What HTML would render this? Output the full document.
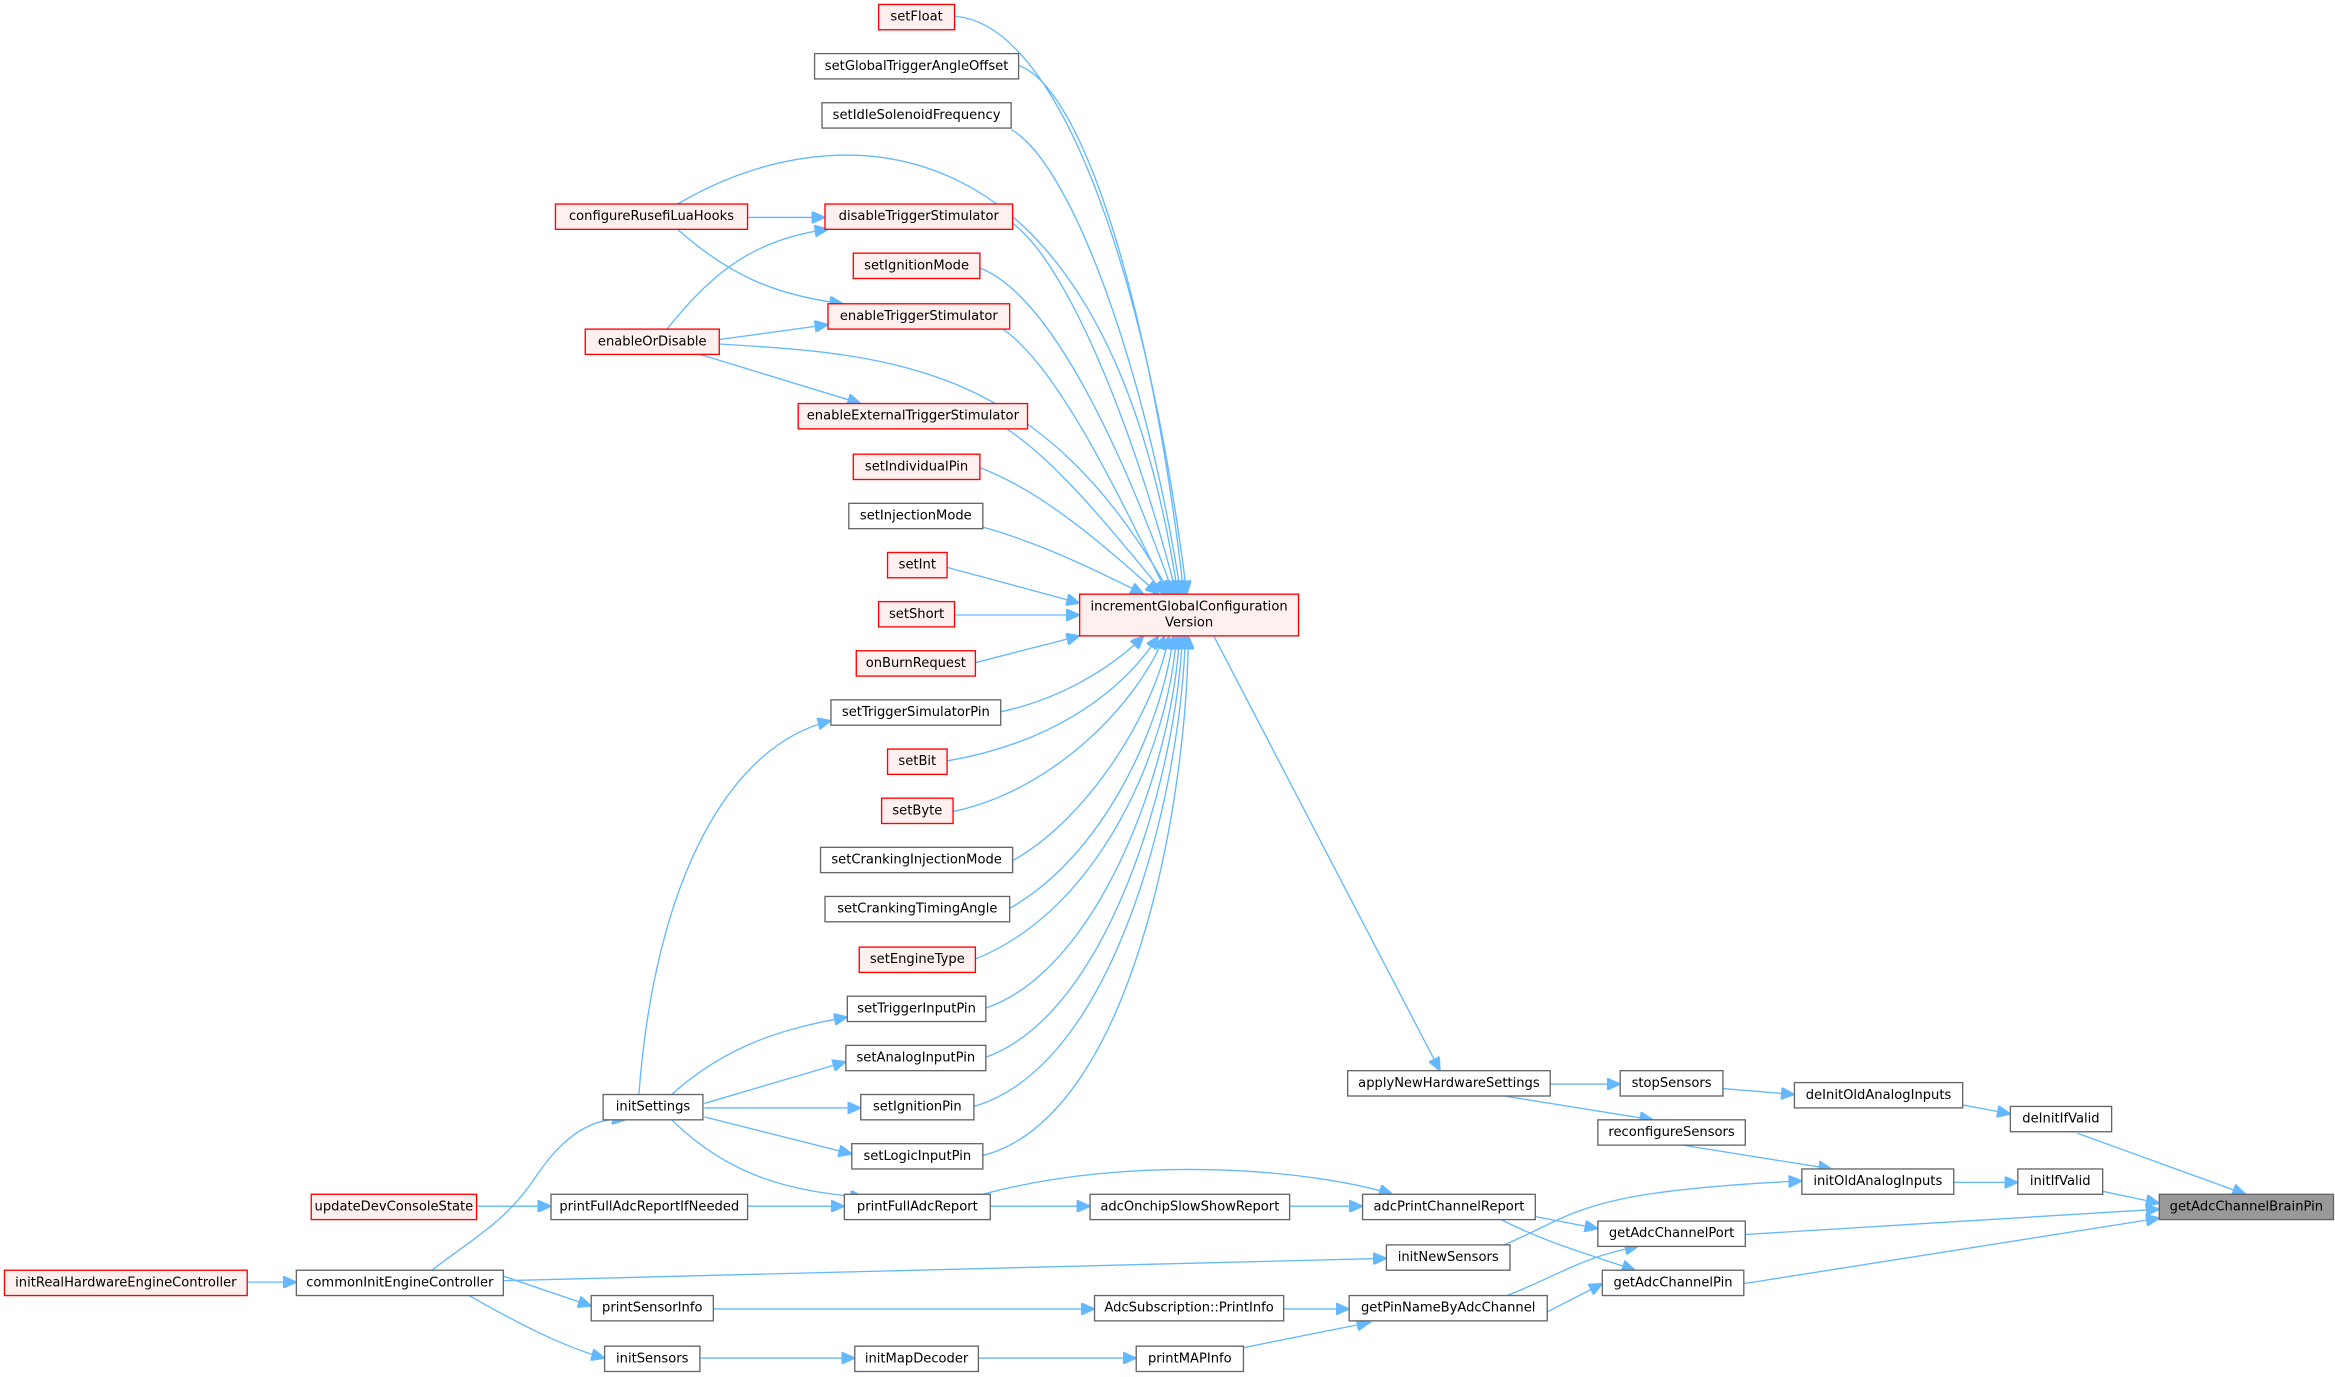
<!DOCTYPE html>
<html><head><meta charset="utf-8"><style>
html,body{margin:0;padding:0;background:#fff;}
svg{display:block;}
text{font-family:"DejaVu Sans","Liberation Sans",sans-serif;font-size:8.8px;fill:#000;text-anchor:middle;dominant-baseline:central;}
.e{fill:none;stroke:#63b8ff;stroke-width:0.9;}
.r{fill:#fff0f0;stroke:#ff0000;stroke-width:0.9;}
.g{fill:#fff;stroke:#666;stroke-width:0.9;}
.b{fill:#999;stroke:#666;stroke-width:0.9;}
</style></head><body>
<svg width="2335" height="1377" viewBox="0 0 1568 924.7" xmlns="http://www.w3.org/2000/svg">
<defs><marker id="a" markerUnits="userSpaceOnUse" markerWidth="10" markerHeight="8" refX="9" refY="4" orient="auto"><path d="M0,0 L9,4 L0,8 z" fill="#63b8ff" stroke="#63b8ff"/></marker></defs>
<g marker-end="url(#a)">
<path class="e" d="M641,11 C710,15 770,180 797,399"/>
<path class="e" d="M684,44 C730,60 775,220 795,399"/>
<path class="e" d="M679,87 C720,110 770,250 793,399"/>
<path class="e" d="M455,137 C550,80 740,60 791,399"/>
<path class="e" d="M680,150 C720,180 765,300 790,399"/>
<path class="e" d="M658,180 C710,200 760,320 788,399"/>
<path class="e" d="M483,231 C600,238 700,245 786,399"/>
<path class="e" d="M672,220 C710,245 750,330 784,399"/>
<path class="e" d="M676,288 C710,310 750,360 782,399"/>
<path class="e" d="M658,314 C700,330 740,365 778,399"/>
<path class="e" d="M660,354 C700,365 740,385 768,399"/>
<path class="e" d="M636,381 L725,405"/>
<path class="e" d="M641,413 L725,413"/>
<path class="e" d="M655,445 L725,427"/>
<path class="e" d="M672,478 C710,470 745,450 768,427"/>
<path class="e" d="M636,511 C700,500 750,470 778,427"/>
<path class="e" d="M640,545 C710,530 765,470 782,427"/>
<path class="e" d="M680,578 C730,550 775,480 785,427"/>
<path class="e" d="M678,610 C740,575 780,490 788,427"/>
<path class="e" d="M655,644 C740,610 785,500 790,427"/>
<path class="e" d="M662,677 C740,650 788,510 792,427"/>
<path class="e" d="M662,710 C745,680 790,520 794,427"/>
<path class="e" d="M654,743 C750,715 793,530 796,427"/>
<path class="e" d="M660,776 C760,750 797,540 798,427"/>
<path class="e" d="M502,146 L554,146"/>
<path class="e" d="M455,154 C490,185 520,198 566,204"/>
<path class="e" d="M448,221 C480,180 510,160 556,154"/>
<path class="e" d="M483,228 L556,218"/>
<path class="e" d="M470,238 L578,271"/>
<path class="e" d="M815,427 L967,719"/>
<path class="e" d="M429,735 C440,590 490,500 558,484"/>
<path class="e" d="M451,735 C490,700 530,690 569,683"/>
<path class="e" d="M473,741 L568,713"/>
<path class="e" d="M473,744 L578,744"/>
<path class="e" d="M473,750 L572,775"/>
<path class="e" d="M451,752 C490,790 530,800 580,804"/>
<path class="e" d="M320,810 L370,810"/>
<path class="e" d="M502,810 L567,810"/>
<path class="e" d="M665,810 L732,810"/>
<path class="e" d="M866,810 L915,810"/>
<path class="e" d="M660,802 C760,775 880,785 935,802"/>
<path class="e" d="M166,861 L199,861"/>
<path class="e" d="M290,853 C320,830 340,820 360,790 C380,760 400,750 420,752"/>
<path class="e" d="M338,860 L931,845"/>
<path class="e" d="M338,857 L397,877"/>
<path class="e" d="M315,870 C350,890 380,905 406,912"/>
<path class="e" d="M479,879 L735,879"/>
<path class="e" d="M470,912 L574,912"/>
<path class="e" d="M657,912 L763,912"/>
<path class="e" d="M862,879 L906,879"/>
<path class="e" d="M835,905 L920,888"/>
<path class="e" d="M1041,728 L1088,728"/>
<path class="e" d="M1010,736 L1110,752"/>
<path class="e" d="M1157,731 L1205,735"/>
<path class="e" d="M1318,742 L1350,748"/>
<path class="e" d="M1130,769 L1230,785"/>
<path class="e" d="M1312,794 L1355,794"/>
<path class="e" d="M1395,761 L1508,802"/>
<path class="e" d="M1412,800 L1450,808"/>
<path class="e" d="M1172,829 L1450,812"/>
<path class="e" d="M1171,862 L1450,818"/>
<path class="e" d="M1031,817 L1073,825"/>
<path class="e" d="M1008,819 C1040,835 1060,840 1098,853"/>
<path class="e" d="M1010,836 C1060,815 1060,800 1210,793"/>
<path class="e" d="M1039,881 L1076,862"/>
<path class="e" d="M1012,870 C1050,855 1060,845 1100,837"/>
</g>
<g>
<rect class="r" x="590" y="3" width="51" height="17"/><text x="615.5" y="11.5">setFloat</text>
<rect class="g" x="547" y="36" width="137" height="17"/><text x="615.5" y="44.5">setGlobalTriggerAngleOffset</text>
<rect class="g" x="552" y="69" width="127" height="17"/><text x="615.5" y="77.5">setIdleSolenoidFrequency</text>
<rect class="r" x="554" y="137" width="126" height="17"/><text x="617" y="145.5">disableTriggerStimulator</text>
<rect class="r" x="573" y="170" width="85" height="17"/><text x="615.5" y="178.5">setIgnitionMode</text>
<rect class="r" x="556" y="204" width="122" height="17"/><text x="617" y="212.5">enableTriggerStimulator</text>
<rect class="r" x="536" y="271" width="154" height="17"/><text x="613" y="279.5">enableExternalTriggerStimulator</text>
<rect class="r" x="573" y="305" width="85" height="17"/><text x="615.5" y="313.5">setIndividualPin</text>
<rect class="g" x="570" y="338" width="90" height="17"/><text x="615" y="346.5">setInjectionMode</text>
<rect class="r" x="596" y="371" width="40" height="17"/><text x="616" y="379.5">setInt</text>
<rect class="r" x="590" y="404" width="51" height="17"/><text x="615.5" y="412.5">setShort</text>
<rect class="r" x="575" y="437" width="80" height="17"/><text x="615" y="445.5">onBurnRequest</text>
<rect class="g" x="558" y="470" width="114" height="17"/><text x="615" y="478.5">setTriggerSimulatorPin</text>
<rect class="r" x="596" y="503" width="40" height="17"/><text x="616" y="511.5">setBit</text>
<rect class="r" x="592" y="536" width="48" height="17"/><text x="616" y="544.5">setByte</text>
<rect class="g" x="551" y="569" width="129" height="17"/><text x="615.5" y="577.5">setCrankingInjectionMode</text>
<rect class="g" x="554" y="602" width="124" height="17"/><text x="616" y="610.5">setCrankingTimingAngle</text>
<rect class="r" x="577" y="636" width="78" height="17"/><text x="616" y="644.5">setEngineType</text>
<rect class="g" x="569" y="669" width="93" height="17"/><text x="615.5" y="677.5">setTriggerInputPin</text>
<rect class="g" x="568" y="702" width="94" height="17"/><text x="615" y="710.5">setAnalogInputPin</text>
<rect class="g" x="578" y="735" width="76" height="17"/><text x="616" y="743.5">setIgnitionPin</text>
<rect class="g" x="572" y="768" width="88" height="17"/><text x="616" y="776.5">setLogicInputPin</text>
<rect class="r" x="725" y="399" width="147" height="28"/><text x="798.5" y="407.5">incrementGlobalConfiguration</text><text x="798.5" y="418.5">Version</text>
<rect class="r" x="373" y="137" width="129" height="17"/><text x="437.5" y="145.5">configureRusefiLuaHooks</text>
<rect class="r" x="393" y="221" width="90" height="17"/><text x="438" y="229.5">enableOrDisable</text>
<rect class="g" x="405" y="735" width="67" height="17"/><text x="438.5" y="743.5">initSettings</text>
<rect class="r" x="209" y="802" width="111" height="17"/><text x="264.5" y="810.5">updateDevConsoleState</text>
<rect class="g" x="370" y="802" width="132" height="17"/><text x="436" y="810.5">printFullAdcReportIfNeeded</text>
<rect class="g" x="567" y="802" width="98" height="17"/><text x="616" y="810.5">printFullAdcReport</text>
<rect class="g" x="732" y="802" width="134" height="17"/><text x="799" y="810.5">adcOnchipSlowShowReport</text>
<rect class="r" x="3" y="853" width="163" height="17"/><text x="84.5" y="861.5">initRealHardwareEngineController</text>
<rect class="g" x="199" y="853" width="139" height="17"/><text x="268.5" y="861.5">commonInitEngineController</text>
<rect class="g" x="397" y="870" width="82" height="17"/><text x="438" y="878.5">printSensorInfo</text>
<rect class="g" x="735" y="870" width="127" height="17"/><text x="798.5" y="878.5">AdcSubscription::PrintInfo</text>
<rect class="g" x="406" y="904" width="64" height="17"/><text x="438" y="912.5">initSensors</text>
<rect class="g" x="574" y="904" width="83" height="17"/><text x="615.5" y="912.5">initMapDecoder</text>
<rect class="g" x="763" y="904" width="72" height="17"/><text x="799" y="912.5">printMAPInfo</text>
<rect class="g" x="905" y="719" width="136" height="17"/><text x="973" y="727.5">applyNewHardwareSettings</text>
<rect class="g" x="1088" y="719" width="69" height="17"/><text x="1122.5" y="727.5">stopSensors</text>
<rect class="g" x="1205" y="727" width="113" height="17"/><text x="1261.5" y="735.5">deInitOldAnalogInputs</text>
<rect class="g" x="1350" y="743" width="68" height="17"/><text x="1384" y="751.5">deInitIfValid</text>
<rect class="g" x="1073" y="752" width="99" height="17"/><text x="1122.5" y="760.5">reconfigureSensors</text>
<rect class="g" x="1210" y="785" width="102" height="17"/><text x="1261" y="793.5">initOldAnalogInputs</text>
<rect class="g" x="1355" y="785" width="57" height="17"/><text x="1383.5" y="793.5">initIfValid</text>
<rect class="b" x="1450" y="802" width="117" height="17"/><text x="1508.5" y="810.5">getAdcChannelBrainPin</text>
<rect class="g" x="915" y="802" width="116" height="17"/><text x="973" y="810.5">adcPrintChannelReport</text>
<rect class="g" x="1073" y="820" width="99" height="17"/><text x="1122.5" y="828.5">getAdcChannelPort</text>
<rect class="g" x="931" y="836" width="83" height="17"/><text x="972.5" y="844.5">initNewSensors</text>
<rect class="g" x="1076" y="853" width="95" height="17"/><text x="1123.5" y="861.5">getAdcChannelPin</text>
<rect class="g" x="906" y="870" width="133" height="17"/><text x="972.5" y="878.5">getPinNameByAdcChannel</text>
</g>
</svg>
</body></html>
